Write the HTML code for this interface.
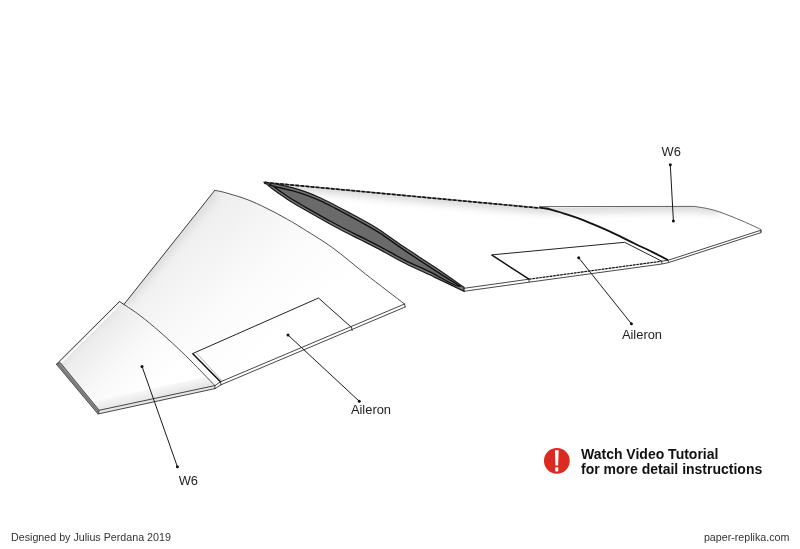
<!DOCTYPE html>
<html><head><meta charset="utf-8">
<style>
html,body{margin:0;padding:0;background:#fff;}
body{width:800px;height:549px;overflow:hidden;position:relative;font-family:"Liberation Sans",sans-serif;}
svg{position:absolute;left:0;top:0;}
</style></head>
<body>
<svg width="800" height="549" viewBox="0 0 800 549">
<defs>
<linearGradient id="gLE" x1="0" y1="0" x2="0" y2="1">
<stop offset="0" stop-color="#dedede"/><stop offset="1" stop-color="#ffffff" stop-opacity="0"/>
</linearGradient>
<linearGradient id="gLw" gradientUnits="userSpaceOnUse" x1="190" y1="215" x2="290" y2="330">
<stop offset="0" stop-color="#ededed"/><stop offset="0.6" stop-color="#fbfbfb"/><stop offset="1" stop-color="#ffffff"/>
</linearGradient>
<linearGradient id="gW6" gradientUnits="userSpaceOnUse" x1="86" y1="334" x2="150" y2="398">
<stop offset="0" stop-color="#eaeaea"/><stop offset="0.55" stop-color="#fafafa"/><stop offset="1" stop-color="#ffffff"/>
</linearGradient>
<linearGradient id="gW6te" gradientUnits="userSpaceOnUse" x1="150" y1="399" x2="147" y2="386">
<stop offset="0" stop-color="#e6e6e6"/><stop offset="1" stop-color="#e6e6e6" stop-opacity="0"/>
</linearGradient>
<clipPath id="cRS"><path d="M265,182.5 L539,208 L694.6,206.2 C697.79,207.02 706.81,208.10 713.75,210.10 C720.69,212.10 729.69,215.78 736.25,218.40 C742.81,221.02 748.98,223.95 753.10,225.80 C757.23,227.65 759.68,228.88 761.00,229.50 L761,232.6 L668.6,262.6 L464,291.3 Z"/></clipPath>
<filter id="blur4" x="-20%" y="-50%" width="140%" height="200%"><feGaussianBlur stdDeviation="4"/></filter>
<clipPath id="cW6"><path d="M119.5,301.5 L124,304.5 C126.67,306.33 134.00,310.92 140.00,315.50 C146.00,320.08 152.42,325.33 160.00,332.00 C167.58,338.67 176.37,346.58 185.50,355.50 C194.63,364.42 209.92,380.50 214.80,385.50 L215,388.6 L98,414 L56.4,364.3 Z"/></clipPath>
</defs>

<!-- ============ LEFT WING ============ -->
<path d="M214.75,190.40 C216.04,190.65 218.71,190.93 222.50,191.90 C226.29,192.88 232.92,194.80 237.50,196.25 C242.08,197.70 245.83,198.93 250.00,200.60 C254.17,202.27 258.33,204.27 262.50,206.25 C266.67,208.23 270.83,210.31 275.00,212.50 C279.17,214.69 283.33,217.02 287.50,219.40 C291.67,221.78 292.45,222.05 300.00,226.80 C307.55,231.55 321.87,240.02 332.80,247.90 C343.73,255.78 353.65,264.75 365.60,274.10 C377.55,283.45 398.02,299.02 404.50,304.00 L405.2,307 L221,384.8 L214.8,385.5 C209.92,380.50 194.63,364.42 185.50,355.50 C176.37,346.58 167.58,338.67 160.00,332.00 C152.42,325.33 146.00,320.08 140.00,315.50 C134.00,310.92 126.67,306.33 124.00,304.50 Z" fill="url(#gLw)"/>
<clipPath id="cLM"><path d="M214.75,190.40 C216.04,190.65 218.71,190.93 222.50,191.90 C226.29,192.88 232.92,194.80 237.50,196.25 C242.08,197.70 245.83,198.93 250.00,200.60 C254.17,202.27 258.33,204.27 262.50,206.25 C266.67,208.23 270.83,210.31 275.00,212.50 C279.17,214.69 283.33,217.02 287.50,219.40 C291.67,221.78 292.45,222.05 300.00,226.80 C307.55,231.55 321.87,240.02 332.80,247.90 C343.73,255.78 353.65,264.75 365.60,274.10 C377.55,283.45 398.02,299.02 404.50,304.00 L405.2,307 L221,384.8 L214.8,385.5 C209.92,380.50 194.63,364.42 185.50,355.50 C176.37,346.58 167.58,338.67 160.00,332.00 C152.42,325.33 146.00,320.08 140.00,315.50 C134.00,310.92 126.67,306.33 124.00,304.50 Z"/></clipPath>
<g clip-path="url(#cLM)"><path d="M214.75,190.40 L124.00,304.30" fill="none" stroke="#dadada" stroke-width="9" filter="url(#blur4)"/></g>
<path d="M119.5,301.5 L124,304.5 C126.67,306.33 134.00,310.92 140.00,315.50 C146.00,320.08 152.42,325.33 160.00,332.00 C167.58,338.67 176.37,346.58 185.50,355.50 C194.63,364.42 209.92,380.50 214.80,385.50 L215,388.6 L98,414 L56.4,364.3 Z" fill="url(#gW6)"/>
<g clip-path="url(#cW6)"><path d="M119.50,301.50 L56.40,364.30" fill="none" stroke="#e0e0e0" stroke-width="8" filter="url(#blur4)"/>
<path d="M121.2,302.8 L57.6,366.2" fill="none" stroke="#fff" stroke-width="1.6"/></g>
<g clip-path="url(#cW6)"><path d="M90,420 L220,392 L215,375 L85,403 Z" fill="url(#gW6te)"/></g>
<g fill="none" stroke-linecap="round">
<path d="M214.75,190.40 L124.00,304.30" stroke="#3a3a3a" stroke-width="1"/>
<path d="M214.75,190.40 C216.04,190.65 218.71,190.93 222.50,191.90 C226.29,192.88 232.92,194.80 237.50,196.25 C242.08,197.70 245.83,198.93 250.00,200.60 C254.17,202.27 258.33,204.27 262.50,206.25 C266.67,208.23 270.83,210.31 275.00,212.50 C279.17,214.69 283.33,217.02 287.50,219.40 C291.67,221.78 292.45,222.05 300.00,226.80 C307.55,231.55 321.87,240.02 332.80,247.90 C343.73,255.78 353.65,264.75 365.60,274.10 C377.55,283.45 398.02,299.02 404.50,304.00 " stroke="#3a3a3a" stroke-width="0.9"/>
<path d="M404.50,304.00 L220.50,381.80" stroke="#333" stroke-width="0.9"/>
<path d="M405.20,307.00 L221.00,384.80" stroke="#333" stroke-width="0.9"/>
<path d="M404.5,304 L405.2,307 M351.6,327.5 L352.1,330.6" stroke="#333" stroke-width="0.9"/>
<path d="M124.00,304.50 C126.67,306.33 134.00,310.92 140.00,315.50 C146.00,320.08 152.42,325.33 160.00,332.00 C167.58,338.67 176.37,346.58 185.50,355.50 C194.63,364.42 209.92,380.50 214.80,385.50 " stroke="#3a3a3a" stroke-width="0.9"/>
<path d="M119.50,301.50 L56.40,364.30" stroke="#3a3a3a" stroke-width="1"/>
<path d="M119.50,301.50 L124.00,304.50" stroke="#3a3a3a" stroke-width="1"/>
<path d="M98.60,410.40 L214.80,385.60" stroke="#333" stroke-width="0.9"/>
<path d="M98.00,414.00 L215.00,388.60" stroke="#333" stroke-width="0.9"/>
<path d="M214.8,385.6 L215,388.6 M220.5,381.8 L221,384.8 M214.8,385.6 L220.5,381.8 M215,388.6 L221,384.8" stroke="#333" stroke-width="0.9"/>
</g>
<path d="M56.40,364.30 L98.00,414.00 L99.40,410.50 L60.20,362.50 Z" fill="#909090" stroke="#333" stroke-width="0.8"/>
<path d="M58.3,364.2 L98.8,412.3" stroke="#444" stroke-width="0.6" fill="none"/>
<g fill="none" stroke="#222">
<path d="M220.50,381.80 L192.60,353.60 L318.50,298.00 L351.60,327.50" stroke-width="1"/>
<path d="M192.60,353.60 L220.50,381.80" stroke="#111" stroke-width="1.4"/>
<path d="M196,352.4 L222.5,381.5" stroke="#888" stroke-width="0.6"/>
</g>

<!-- ============ RIGHT WING ============ -->
<path d="M265,182.5 L539,208 L694.6,206.2 C697.79,207.02 706.81,208.10 713.75,210.10 C720.69,212.10 729.69,215.78 736.25,218.40 C742.81,221.02 748.98,223.95 753.10,225.80 C757.23,227.65 759.68,228.88 761.00,229.50 L761,232.6 L668.6,262.6 L464,291.3 Z" fill="#ffffff"/>
<g clip-path="url(#cRS)"><path d="M265,182.5 L539,208 L694.6,206.4 L720,209" fill="none" stroke="#cdcdcd" stroke-width="8" filter="url(#blur4)"/></g>
<path d="M265,182.5 L539,208" fill="none" stroke="#777" stroke-width="1.5"/>
<path d="M265,182.5 L539,208" fill="none" stroke="#111" stroke-width="1.6" stroke-dasharray="3.6,1.5"/>
<path d="M539,206.6 L694.6,206.4 C697.79,207.02 706.81,208.10 713.75,210.10 C720.69,212.10 729.69,215.78 736.25,218.40 C742.81,221.02 748.98,223.95 753.10,225.80 C757.23,227.65 759.68,228.88 761.00,229.50  L761,232.6" fill="none" stroke="#555" stroke-width="0.9"/>
<path d="M538.5,206.8 L548,207 L552,209.6 L540,208.6 Z" fill="#999"/>
<g fill="none" stroke="#333" stroke-width="0.9">
<path d="M464.00,288.30 L529.00,279.20"/>
<path d="M529.00,279.20 L661.80,261.20" stroke="#999" stroke-width="0.9"/>
<path d="M529.00,279.20 L661.80,261.20" stroke="#111" stroke-width="1.15" stroke-dasharray="2.4,1.1"/>
<path d="M661.80,261.20 L668.30,260.20 L761.00,230.20"/>
<path d="M464.00,291.30 L529.00,282.20 L661.80,264.00 L668.60,262.60 L761.00,232.60"/>
<path d="M529,279.2 L529,282.2 M661.8,261.2 L661.8,264 M668.3,260.2 L668.6,262.6 M761,230.2 L761,232.6"/>
</g>
<g fill="none" stroke="#222">
<path d="M491.60,254.90 L624.70,242.30 L661.80,261.20" stroke-width="1"/>
<path d="M491.60,254.90 L529.00,279.20" stroke="#111" stroke-width="1.4"/>
</g>
<path d="M539.40,207.60 C541.17,207.90 545.73,208.37 550.00,209.40 C554.27,210.43 560.00,212.22 565.00,213.80 C570.00,215.38 574.17,216.67 580.00,218.90 C585.83,221.13 593.75,224.50 600.00,227.20 C606.25,229.90 611.67,232.33 617.50,235.10 C623.33,237.87 629.17,240.97 635.00,243.80 C640.83,246.63 647.00,249.40 652.50,252.10 C658.00,254.80 665.42,258.68 668.00,260.00 " fill="none" stroke="#111" stroke-width="1.8"/>
<path d="M264.70,182.60 C267.25,182.97 275.45,183.97 280.00,184.80 C284.55,185.63 287.83,186.47 292.00,187.60 C296.17,188.73 300.33,189.92 305.00,191.60 C309.67,193.28 315.00,195.43 320.00,197.70 C325.00,199.97 330.00,202.63 335.00,205.20 C340.00,207.77 345.00,210.42 350.00,213.10 C355.00,215.78 360.00,218.45 365.00,221.30 C370.00,224.15 373.33,225.82 380.00,230.20 C386.67,234.58 395.83,241.42 405.00,247.60 C414.17,253.78 425.17,260.68 435.00,267.30 C444.83,273.92 459.17,283.97 464.00,287.30 L464,291.3 C459.17,288.98 444.83,282.07 435.00,277.40 C425.17,272.73 414.17,267.93 405.00,263.30 C395.83,258.67 387.50,253.57 380.00,249.60 C372.50,245.63 365.83,242.43 360.00,239.50 C354.17,236.57 350.00,234.58 345.00,232.00 C340.00,229.42 335.00,226.73 330.00,224.00 C325.00,221.27 320.00,218.43 315.00,215.60 C310.00,212.77 304.17,209.43 300.00,207.00 C295.83,204.57 293.33,203.13 290.00,201.00 C286.67,198.87 283.00,196.28 280.00,194.20 C277.00,192.12 274.55,190.43 272.00,188.50 C269.45,186.57 265.92,183.58 264.70,182.60 Z" fill="#767676" stroke="#1a1a1a" stroke-width="1.2"/>
<path d="M268.70,184.80 C270.58,185.30 276.12,186.83 280.00,187.80 C283.88,188.77 287.83,189.47 292.00,190.60 C296.17,191.73 300.33,192.92 305.00,194.60 C309.67,196.28 315.00,198.43 320.00,200.70 C325.00,202.97 330.00,205.63 335.00,208.20 C340.00,210.77 345.00,213.42 350.00,216.10 C355.00,218.78 360.00,221.45 365.00,224.30 C370.00,227.15 373.33,228.82 380.00,233.20 C386.67,237.58 395.83,244.42 405.00,250.60 C414.17,256.78 425.83,264.38 435.00,270.30 C444.17,276.22 455.83,283.47 460.00,286.10 C455.83,287.48 444.17,279.37 435.00,274.40 C425.83,269.43 414.17,264.93 405.00,260.30 C395.83,255.67 387.50,250.57 380.00,246.60 C372.50,242.63 365.83,239.43 360.00,236.50 C354.17,233.57 350.00,231.58 345.00,229.00 C340.00,226.42 335.00,223.73 330.00,221.00 C325.00,218.27 320.00,215.43 315.00,212.60 C310.00,209.77 304.17,206.43 300.00,204.00 C295.83,201.57 293.33,200.13 290.00,198.00 C286.67,195.87 283.00,193.28 280.00,191.20 C277.00,189.12 273.88,186.57 272.00,185.50 C270.12,184.43 269.25,184.92 268.70,184.80 Z" fill="#6a6a6a" stroke="#111" stroke-width="1.4"/>
<circle cx="265.3" cy="182.8" r="1.5" fill="#222"/>

<!-- ============ LEADERS ============ -->
<g stroke="#1a1a1a" stroke-width="1">
<line x1="142" y1="366.4" x2="177.4" y2="466.8"/>
<line x1="288" y1="335" x2="359.25" y2="401.25"/>
<line x1="670.3" y1="164.7" x2="673.4" y2="221"/>
<line x1="578.7" y1="257.8" x2="631.4" y2="323.75"/>
</g>
<g fill="#111">
<circle cx="142" cy="366.4" r="1.5"/><circle cx="177.4" cy="466.8" r="1.5"/>
<circle cx="288" cy="335" r="1.5"/><circle cx="359.25" cy="401.25" r="1.5"/>
<circle cx="670.3" cy="164.7" r="1.5"/><circle cx="673.4" cy="221" r="1.5"/>
<circle cx="578.7" cy="257.8" r="1.5"/><circle cx="631.4" cy="323.75" r="1.5"/>
</g>

<!-- warning icon -->
<circle cx="556.85" cy="460.85" r="12.9" fill="#dc2a20"/>
<path d="M554.9,450.2 L558.7,450.2 L558.1,465.6 L555.5,465.6 Z" fill="#fff"/>
<rect x="555.3" y="467.3" width="3" height="4.1" rx="0.4" fill="#fff"/>

<g font-family="Liberation Sans, sans-serif" fill="#1e1e1e" opacity="0.995">
<text x="661.5" y="155.5" font-size="12.9">W6</text>
<text x="178.7" y="484.7" font-size="12.9">W6</text>
<text x="350.9" y="413.6" font-size="12.9">Aileron</text>
<text x="621.9" y="339.1" font-size="12.9">Aileron</text>
<text x="581" y="458.6" font-size="14" font-weight="bold" fill="#111">Watch Video Tutorial</text>
<text x="581" y="474" font-size="14" font-weight="bold" fill="#111">for more detail instructions</text>
<text x="11" y="540.7" font-size="10.7" fill="#333">Designed by Julius Perdana 2019</text>
<text x="703.9" y="540.5" font-size="10.7" fill="#333">paper-replika.com</text>
</g>
</svg>
</body></html>
